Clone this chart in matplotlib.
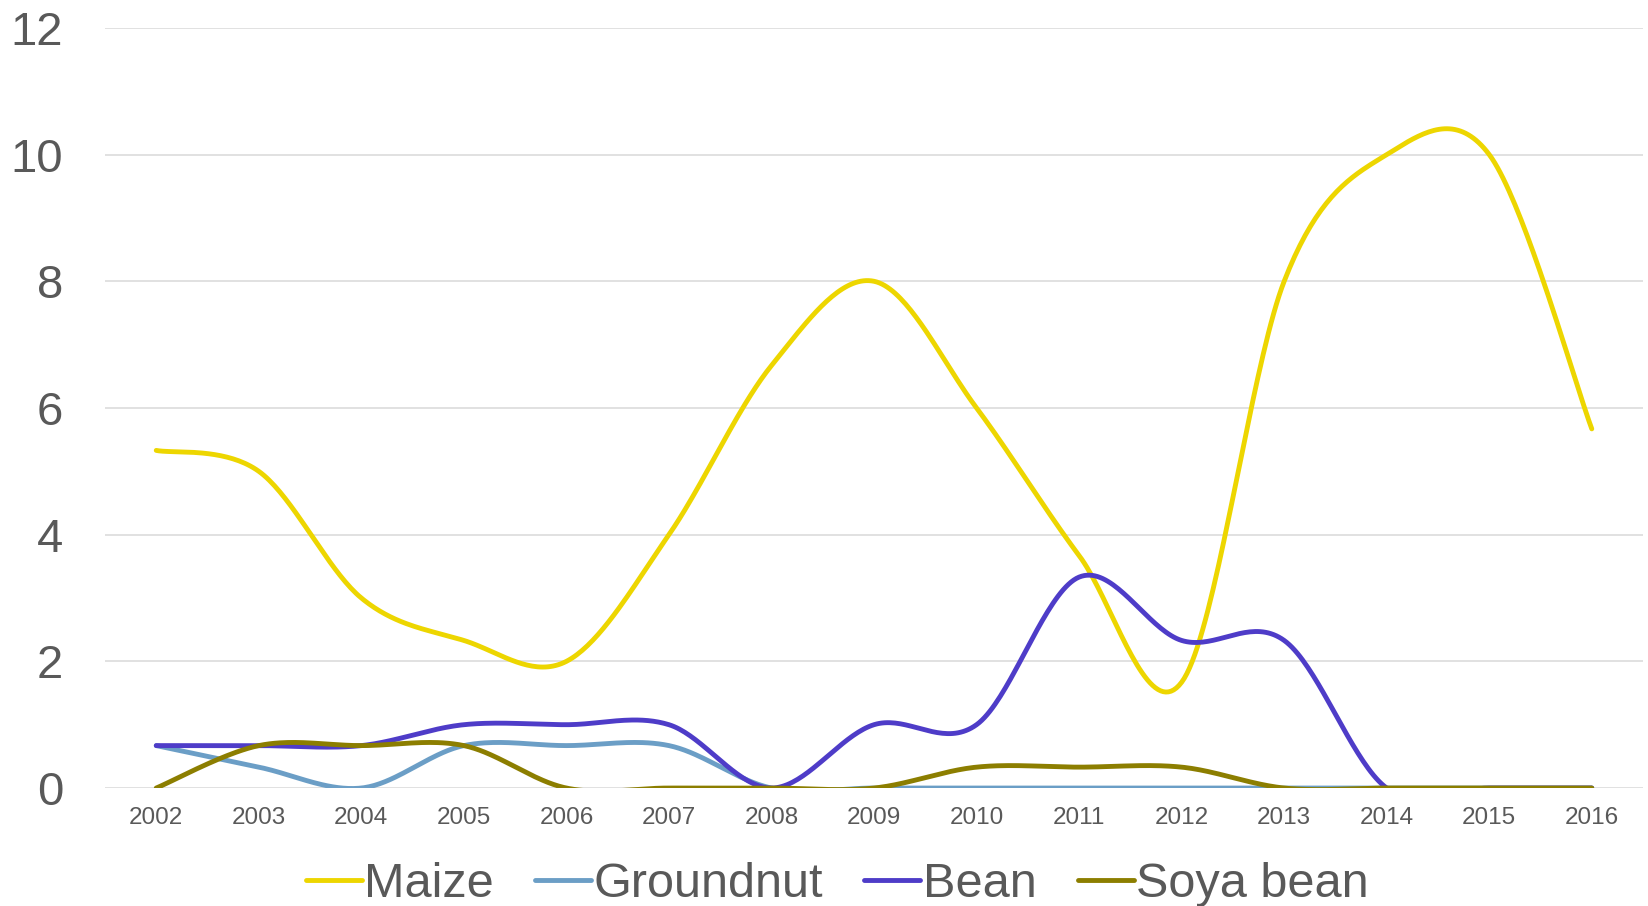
import numpy as np
import matplotlib.pyplot as plt

years = ['2002', '2003', '2004', '2005', '2006', '2007', '2008', '2009',
         '2010', '2011', '2012', '2013', '2014', '2015', '2016']
maize = [5.33, 5.0, 3.0, 2.33, 2.0, 4.0, 6.67, 8.0, 6.0, 3.67, 1.67, 8.0, 10.0, 10.0, 5.67]
groundnut = [0.67, 0.33, 0.0, 0.67, 0.67, 0.67, 0.0, 0.0, 0.0, 0.0, 0.0, 0.0, 0.0, 0.0, 0.0]
bean = [0.67, 0.67, 0.67, 1.0, 1.0, 1.0, 0.0, 1.0, 1.0, 3.33, 2.33, 2.33, 0.0, 0.0, 0.0]
soya = [0.0, 0.67, 0.67, 0.67, 0.0, 0.0, 0.0, 0.0, 0.33, 0.33, 0.33, 0.0, 0.0, 0.0, 0.0]

names = ['Maize', 'Groundnut', 'Bean', 'Soya bean']
colors = ['#EDD600', '#6B9EC6', '#4E3CC8', '#8C7E00']
text_col = '#595959'


def smooth(y, n=40):
    # excel-like smoothed line: cubic bezier with catmull-rom control points
    y = np.asarray(y, dtype=float)
    x = np.arange(len(y), dtype=float)
    P = np.column_stack([x, y])
    Pp = np.vstack([P[0], P, P[-1]])
    t = np.linspace(0, 1, n)[:, None]
    out = []
    for i in range(len(P) - 1):
        p0 = Pp[i + 1]
        p3 = Pp[i + 2]
        c1 = p0 + (Pp[i + 2] - Pp[i]) / 6.0
        c2 = p3 - (Pp[i + 3] - Pp[i + 1]) / 6.0
        seg = ((1 - t) ** 3) * p0 + 3 * ((1 - t) ** 2) * t * c1 + 3 * (1 - t) * t ** 2 * c2 + t ** 3 * p3
        out.append(seg if i == 0 else seg[1:])
    out = np.vstack(out)
    return out[:, 0], out[:, 1]


plt.rcParams['font.family'] = ['Liberation Sans', 'DejaVu Sans']

fig = plt.figure(figsize=(16.48, 9.06), dpi=100)
ax = fig.add_axes([0.0637, 0.1302, 0.9333, 0.839])

for vals, name, c in zip([maize, groundnut, bean, soya], names, colors):
    sx, sy = smooth(vals)
    ax.plot(sx, sy, color=c, lw=3.5, solid_capstyle='round', label=name)

ax.set_xlim(-0.5, len(years) - 0.5)
ax.set_ylim(0, 12)
ax.set_yticks(np.arange(0, 13, 2))
ax.set_xticks(np.arange(len(years)))
ax.set_xticklabels(years)
ax.grid(axis='y', color='#D9D9D9', lw=1.1)
ax.set_axisbelow(True)
for s in ax.spines.values():
    s.set_visible(False)
ax.tick_params(axis='y', length=0, pad=30, labelsize=34, labelcolor=text_col)
ax.tick_params(axis='x', length=0, pad=14, labelsize=17.5, labelcolor=text_col)

fig.legend(loc='center', bbox_to_anchor=(0.508, 0.024), ncol=4, frameon=False,
           fontsize=35, labelcolor=text_col, handlelength=1.15, handletextpad=0.05,
           columnspacing=0.85, borderaxespad=0)

fig.savefig('out.png', dpi=100)
